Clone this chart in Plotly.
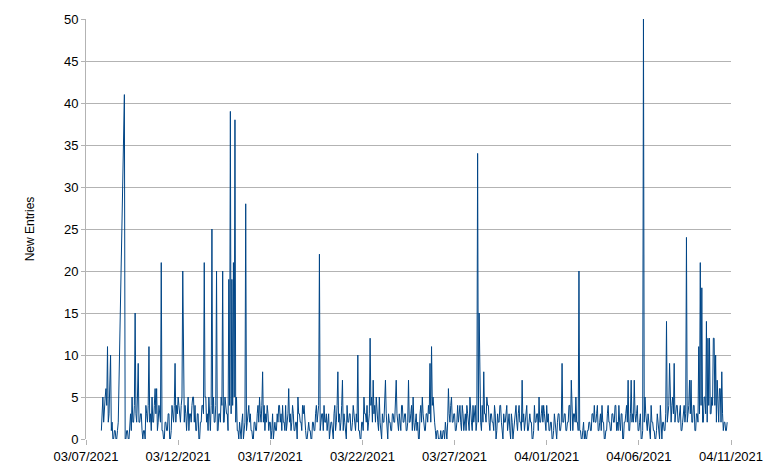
import plotly.graph_objects as go
import pandas as pd

# Hourly counts starting 2021-03-07 20:00 (None = missing sample)
week1 = [
    1, 3, 5, 2, 4, 5, 6, 4, 11, 2, 3, 6, 10, 1, 2, 0, 0, 1, 1, 0, 0, 1, 2, None,
    None, None, None, None, None, None, 41, 0, 0, 1, 1, 0, 0, 2, 3, 1, 5, 2, 2, 4, 15, 3, 2, 5,
    9, 2, 2, 3, 3, 1, 0, 1, 1, 0, 4, 3, 2, 4, 11, 2, 3, 1, 5, 2, 2, 4, 6, 3,
    6, 1, 2, 4, 3, 2, 21, 1, 1, 0, 0, 2, 2, 1, 1, 3, 3, 0, 0, 1, 4, 3, 2, 4,
    9, 2, 4, 3, 5, 4, 3, 2, 4, 5, 20, 3, 2, 4, 3, 1, 4, 5, 1, 3, 3, 2, 4, 5,
    5, 2, 4, 1, 1, 3, 3, 0, 0, 2, 2, 4, 4, 3, 21, 5, 5, 2, 3, 1, 5, 2, 1, 4,
    25, 3, 5, 2, 2, 4, 20, 1, 1, 3, 3, 2, 5, 4, 20, 2, 2, 5, 4, 3, 3, 1, 19, 4,
]
week2 = [
    39, 3, 19, 4, 21, 5, 38, 2, 5, 1, 1, 0, 2, 1, 0, 2, 3, 0, 1, 2, 28, 1, 2, 3,
    4, 2, 3, 1, 1, 0, 0, 2, 2, 1, 1, 3, 4, 2, 5, 3, 2, 4, 8, 2, 4, 1, 3, 2,
    4, 3, 1, 2, 2, 0, 1, 3, 0, 1, 2, 1, 1, 3, 2, 4, 4, 2, 3, 1, 4, 2, 2, 1,
    4, 1, 2, 3, 6, 2, 3, 1, 2, 4, 3, 1, 1, 2, 2, 0, 5, 3, 3, 2, 2, 1, 4, 3,
    4, 2, 1, 0, 0, 1, 2, 1, 1, 0, 0, 2, 2, 1, 1, 3, 4, 2, 3, 4, 22, 1, 2, 3,
    3, 1, 4, 2, 2, 3, 1, 2, 3, 0, 1, 2, 2, 1, 0, 3, 4, 1, 2, 4, 8, 2, 3, 1,
    2, 4, 7, 1, 3, 2, 1, 0, 4, 2, 2, 3, 3, 1, 1, 2, 4, 3, 2, 1, 3, 2, 10, 1,
]
week3 = [
    1, 0, 0, 2, 2, 1, 5, 3, 3, 2, 4, 1, 2, 3, 12, 4, 5, 2, 7, 3, 4, 2, 5, 3,
    2, 1, 5, 2, 1, 0, 3, 2, 2, 4, 7, 3, 1, 0, 3, 2, 2, 1, 1, 3, 3, 2, 2, 4,
    7, 3, 2, 1, 3, 2, 1, 4, 4, 2, 2, 3, 3, 1, 1, 2, 7, 2, 2, 3, 4, 1, 5, 2,
    1, 2, 3, 1, 2, 0, 0, 3, 4, 2, 5, 3, 2, 1, 1, 3, 3, 2, 4, 3, 9, 2, 11, 4,
    5, 3, 2, 1, 0, 1, 1, 0, 0, 0, 1, 0, 0, 1, 1, 0, 2, 1, 0, 2, 6, 3, 2, 4,
    5, 2, 2, 3, 3, 1, 1, 2, 4, 2, 3, 4, 2, 1, 4, 3, 1, 2, 3, 1, 4, 3, 2, 1,
    5, 3, 2, 1, 4, 2, 3, 4, 1, 2, 34, 2, 15, 3, 2, 1, 4, 2, 8, 3, 3, 2, 5, 4,
]
week4 = [
    4, 2, 1, 3, 3, 2, 2, 1, 4, 3, 0, 1, 3, 2, 2, 4, 4, 2, 1, 0, 3, 2, 2, 3,
    4, 1, 2, 3, 1, 0, 3, 2, 0, 1, 2, 3, 4, 2, 1, 3, 4, 2, 2, 1, 7, 2, 3, 1,
    2, 3, 4, 1, 1, 2, 3, 2, 2, 0, 0, 1, 4, 2, 2, 3, 3, 1, 5, 2, 2, 3, 4, 2,
    4, 3, 2, 1, 4, 2, 3, 1, 1, 2, 2, 0, 0, 1, 3, 2, 1, 0, 2, 3, 3, 1, 1, 2,
    9, 2, 2, 3, 3, 1, 1, 2, 2, 4, 4, 1, 7, 2, 1, 3, 3, 2, 5, 2, 2, 1, 20, 1,
    1, 0, 0, 1, 2, 0, 1, 0, 0, 1, 1, 2, 2, 1, 1, 3, 3, 2, 4, 2, 2, 3, 4, 1,
    1, 2, 3, 1, 4, 2, 2, 0, 0, 1, 1, 3, 4, 2, 2, 1, 1, 3, 3, 2, 2, 4, 4, 1,
]
week5 = [
    2, 1, 4, 2, 1, 3, 3, 0, 0, 2, 2, 3, 4, 2, 7, 1, 1, 3, 7, 2, 3, 2, 7, 3,
    2, 3, 4, 1, 1, 2, 3, 0, 0, 1, 50, 2, 5, 3, 2, 1, 3, 2, 1, 0, 4, 2, 2, 1,
    1, 0, 0, 1, 3, 2, 1, 0, 4, 1, 0, 2, 2, 1, 1, 3, 14, 2, 3, 4, 9, 3, 2, 4,
    5, 3, 9, 2, 3, 4, 4, 2, 2, 3, 4, 1, 1, 2, 3, 4, 2, 3, 24, 2, 3, 4, 7, 3,
    7, 2, 2, 4, 4, 1, 1, 3, 3, 2, 11, 3, 21, 4, 18, 2, 2, 5, 5, 3, 14, 2, 12, 4,
    12, 3, 3, 5, 4, 12, 12, 4, 10, 2, 7, 3, 2, 6, 6, 2, 8, 3, 1, 2, 2, 1, 1, 2,
]

values = week1 + week2 + week3 + week4 + week5
times = pd.date_range("2021-03-07 20:00", periods=len(values), freq="1h")

x_tick_labels = ["03/07/2021", "03/12/2021", "03/17/2021", "03/22/2021",
                 "03/27/2021", "04/01/2021", "04/06/2021", "04/11/2021"]
x_tick_vals = pd.date_range("2021-03-07", periods=len(x_tick_labels), freq="5D")

fig = go.Figure()
fig.add_trace(go.Scatter(
    x=times, y=values, mode="lines", connectgaps=True,
    line=dict(color="#004586", width=1),
    showlegend=False,
))

fig.update_layout(
    width=779, height=476,
    margin=dict(l=86, r=48, t=17, b=31),
    paper_bgcolor="white", plot_bgcolor="white",
    font=dict(family="Liberation Sans, Arial, sans-serif", size=13, color="#000000"),
)
fig.update_xaxes(
    range=[pd.Timestamp("2021-03-07"), pd.Timestamp("2021-04-11")],
    tickvals=x_tick_vals, ticktext=x_tick_labels,
    showgrid=False, zeroline=False,
    showline=False,
    ticks="outside", ticklen=5, tickcolor="#b3b3b3",
    tickfont=dict(size=13),
)
fig.update_yaxes(
    range=[0, 50], dtick=5,
    showgrid=True, gridcolor="#b3b3b3", gridwidth=1,
    zeroline=False,
    showline=True, linecolor="#b3b3b3", linewidth=1,
    ticks="outside", ticklen=4, tickcolor="#b3b3b3",
    title=dict(text="New Entries", font=dict(size=12), standoff=26),
    tickfont=dict(size=13),
)

fig.write_html("out.html", config={"displayModeBar": False},
               post_script="document.body.style.margin='0';")
